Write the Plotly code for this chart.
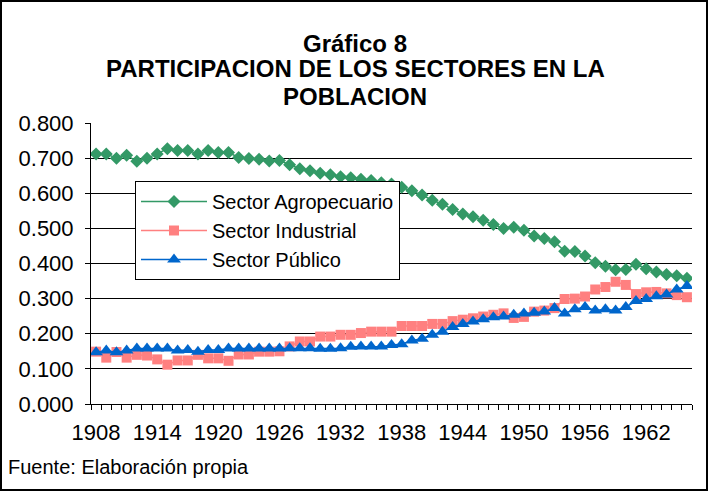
import plotly.graph_objects as go

years = list(range(1908, 1967))

sector_agropecuario = [
    0.712, 0.712, 0.700, 0.708, 0.691, 0.700, 0.712, 0.727, 0.722, 0.722,
    0.712, 0.722, 0.716, 0.716, 0.702, 0.699, 0.697, 0.692, 0.693, 0.681,
    0.670, 0.664, 0.657, 0.653, 0.647, 0.644, 0.640, 0.636, 0.630, 0.626,
    0.617, 0.607, 0.595, 0.580, 0.569, 0.554, 0.541, 0.533, 0.523, 0.511,
    0.500, 0.503, 0.495, 0.478, 0.471, 0.462, 0.435, 0.434, 0.421, 0.402,
    0.392, 0.382, 0.383, 0.398, 0.385, 0.376, 0.369, 0.365, 0.358,
]

sector_industrial = [
    0.149, 0.132, 0.148, 0.132, 0.140, 0.138, 0.127, 0.112, 0.124, 0.124,
    0.140, 0.130, 0.130, 0.123, 0.141, 0.141, 0.149, 0.149, 0.150, 0.164,
    0.178, 0.178, 0.192, 0.192, 0.197, 0.197, 0.202, 0.206, 0.206, 0.206,
    0.222, 0.222, 0.222, 0.228, 0.228, 0.236, 0.240, 0.244, 0.249, 0.254,
    0.258, 0.245, 0.248, 0.263, 0.266, 0.273, 0.299, 0.300, 0.306, 0.326,
    0.333, 0.348, 0.339, 0.313, 0.318, 0.319, 0.315, 0.310, 0.304,
]

sector_publico = [
    0.147, 0.152, 0.147, 0.152, 0.158, 0.158, 0.158, 0.158, 0.152, 0.154,
    0.149, 0.154, 0.154, 0.158, 0.158, 0.158, 0.158, 0.158, 0.158, 0.159,
    0.159, 0.159, 0.157, 0.157, 0.159, 0.163, 0.164, 0.164, 0.164, 0.168,
    0.170, 0.181, 0.186, 0.197, 0.206, 0.219, 0.228, 0.235, 0.241, 0.247,
    0.249, 0.254, 0.258, 0.260, 0.263, 0.273, 0.258, 0.270, 0.276, 0.266,
    0.270, 0.266, 0.276, 0.293, 0.299, 0.307, 0.312, 0.326, 0.336,
]

tick_labels = [str(y) for y in range(1908, 1967, 6)]
tick_years = [int(t) for t in tick_labels]

title_lines = ["Gráfico 8", "PARTICIPACION DE LOS SECTORES EN LA", "POBLACION"]

FONT = "Liberation Sans, Arial, sans-serif"

fig = go.Figure()
fig.add_trace(go.Scatter(
    x=years, y=sector_agropecuario, name="Sector Agropecuario",
    mode="lines+markers",
    line=dict(color="#339966", width=1.5),
    marker=dict(symbol="diamond", size=10, color="#339966"),
))
fig.add_trace(go.Scatter(
    x=years, y=sector_industrial, name="Sector Industrial",
    mode="lines+markers",
    line=dict(color="#FF8080", width=1.5),
    marker=dict(symbol="square", size=10, color="#FF8080"),
))
fig.add_trace(go.Scatter(
    x=years, y=sector_publico, name="Sector Público",
    mode="lines+markers",
    line=dict(color="#0066CC", width=1.5),
    marker=dict(symbol="triangle-up", size=12, color="#0066CC"),
))

W, H = 708, 491
ml, mr, mt, mb = 91, 16, 123, 87
pw, ph = W - ml - mr, H - mt - mb

def px_to_paper_x(px):
    return (px - ml) / pw

def px_to_paper_y(py):
    return (H - mb - py) / ph

title_y_px = [44, 69, 96]
annotations = [dict(
    text="<b>%s</b>" % line,
    xref="paper", yref="paper",
    x=px_to_paper_x(W / 2 + 1), y=px_to_paper_y(ty),
    xanchor="center", yanchor="middle", showarrow=False,
    font=dict(family=FONT, size=24, color="black"),
) for line, ty in zip(title_lines, title_y_px)]

annotations.append(dict(
    text="Fuente: Elaboración propia",
    xref="paper", yref="paper",
    x=px_to_paper_x(6), y=px_to_paper_y(467),
    xanchor="left", yanchor="middle", showarrow=False,
    font=dict(family=FONT, size=20, color="black"),
))

fig.update_layout(
    width=W, height=H,
    margin=dict(l=ml, r=mr, t=mt, b=mb),
    paper_bgcolor="white", plot_bgcolor="white",
    font=dict(family=FONT, color="black", size=21),
    xaxis=dict(
        range=[years[0] - 0.5, years[-1] + 0.5],
        tickmode="array", tickvals=tick_years, ticktext=tick_labels,
        ticks="", ticklabelstandoff=9,
        tickfont=dict(size=22),
        showline=True, linecolor="black", linewidth=1,
        showgrid=False, zeroline=False,
        minor=dict(
            tickmode="array",
            tickvals=[y - 0.5 for y in years] + [years[-1] + 0.5],
            ticks="outside", ticklen=5, tickcolor="black", tickwidth=1,
            showgrid=False,
        ),
    ),
    yaxis=dict(
        range=[0, 0.8], tickmode="linear", tick0=0, dtick=0.1,
        tickformat=".3f",
        ticks="outside", ticklen=5, tickcolor="black",
        ticklabelstandoff=7,
        tickfont=dict(size=22),
        showline=True, linecolor="black", linewidth=1,
        showgrid=True, gridcolor="black", gridwidth=1,
        zeroline=False,
    ),
    legend=dict(
        x=px_to_paper_x(135), y=px_to_paper_y(181),
        xanchor="left", yanchor="top",
        bgcolor="white", bordercolor="black", borderwidth=1,
        font=dict(family=FONT, size=20, color="black"),
        itemwidth=66, tracegroupgap=0,
    ),
    showlegend=True,
    shapes=[dict(
        type="rect", xref="paper", yref="paper",
        x0=px_to_paper_x(1), x1=px_to_paper_x(W - 1),
        y0=px_to_paper_y(H - 1), y1=px_to_paper_y(1),
        line=dict(color="black", width=2), fillcolor="rgba(0,0,0,0)",
        layer="above",
    )],
    annotations=annotations,
)

fig.write_html(
    "out.html",
    config={"displayModeBar": False},
    post_script="document.body.style.margin='0';",
)
